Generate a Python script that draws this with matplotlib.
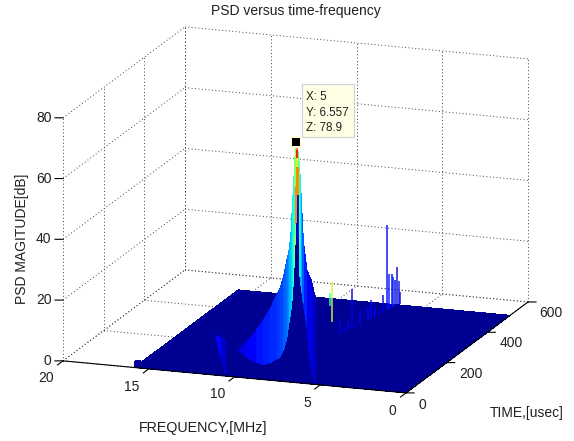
# PSD surface over time and frequency, matlab style 3d view with a data tip
import numpy as np
import matplotlib
matplotlib.use('Agg')
import matplotlib.pyplot as plt
from matplotlib.colors import Normalize
from matplotlib.patches import Rectangle

plt.rcParams['font.family'] = ['Liberation Sans', 'DejaVu Sans']

# surface grid
freqs = [0, 5.3, 5.36, 5.46, 5.6, 5.85, 6.05, 6.14, 6.24, 6.28, 6.37, 6.48, 6.57, 6.63, 6.7, 6.76,
         6.86, 6.92, 7.01, 7.21, 7.4, 7.56, 8.0, 8.38, 8.8, 9.3, 9.8, 9.85, 10.55, 10.6, 10.9, 11.14,
         11.19, 15.5, 15.55, 15.85]
times = [0, 5, 6, 8, 512]
mag_t0 = [0] * len(freqs)
mag_t5 = [0, 0, 0.5, 1.8, 5, 18.6, 26, 30, 34.7, 44, 61.7, 52, 40, 33, 27, 24,
          20, 18, 14, 10, 7.9, 7, 5.5, 4.6, 5.2, 6.5, 8.7, 0, 0, 0.7, 6.5, 12.6,
          0, 0, 2, 2]
mag_t6 = [0, 0, 28.6, 30.5, 33.9, 37, 46, 56, 67, 71, 76, 78.9, 72, 63.8, 57.7, 50,
          44.3, 42, 39.9, 34.2, 30.5, 28.6, 23, 19.3, 15.5, 11.8, 8.7, 0, 0, 11.5, 12, 12.6,
          0, 0, 2, 2]
mag_t8 = [0] * len(freqs)
mag_t512 = [0] * len(freqs)
# colour of the steep flank strips, same units as the magnitude
flank_c = [0, 0, 3, 4, 6, 11, 16, 22, 28, 35, 60, 40, 33, 28, 25, 23,
           20, 18, 16, 14, 13, 12, 11, 10, 8.5, 6, 0, 0, 0, 4, 8, 0,
           0, 3, 3, 3]

# thin spikes behind the main peak
spike_f = [7.65, 7.61, 7.49, 7.41, 7.36, 7.29, 7.25, 7.17, 7.04, 6.99, 6.92, 6.84, 6.79, 6.73,
           6.69, 6.65, 6.63, 6.6, 6.57, 6.54, 6.52]
spike_t = [272, 280, 307, 325, 337, 351, 360, 378, 405, 416, 431, 449, 461, 473,
           483, 492, 497, 502, 509, 516, 520]
spike_low = [11, 5.4, 0, 0, 0, 0, 0, 0, 0, 0, 0, 0, 0, 0, 0, 0, 0, 0, 0, 0, 0]
spike_high = [15.3, 18.6, 5.2, 1, 2.7, 12.8, 1, 4.6, 4.3, 6, 3.1, 1, 5.6, 28,
              11.6, 11.2, 10, 8.5, 12.6, 7.8, 3.8]
spike_c = [30, 47, 6, 8, 7, 6, 6, 8, 9, 7, 8, 6, 6, 9, 10, 8, 11, 5, 4, 10, 5]

# coloured slivers along the top of the ridge
ridge_f = [6.43, 6.43, 6.34, 6.35, 6.53, 6.59]
ridge_low = [73.7, 70.8, 61.5, 45, 64, 48]
ridge_high = [76.4, 73.7, 70.8, 61.5, 72, 64]
ridge_c = [70, 47, 60, 8, 40, 30]

# data tip, marker sits where the picture has it
tip_f = 6.48
tip_t = 5
tip_z = 78.9
tip_text = 'X: 5\nY: 6.557\nZ: 78.9'

x_ticks = [0, 5, 10, 15, 20]
y_ticks = [0, 200, 400, 600]
z_ticks = [0, 20, 40, 60, 80]

W, H = 574, 441
fig = plt.figure(figsize=(5.74, 4.41), dpi=100)
# axes box larger than the figure so nothing of the 3d box gets clipped
ax = fig.add_axes([-12.6 / W, -77 / H, 600 / W, 600 / H], projection='3d', proj_type='ortho',
                  computed_zorder=False)
ax.view_init(elev=15.3, azim=-70.5)
ax.set_box_aspect((363.9, 365.5, 252), zoom=0.9287)
ax.set_xlim(20, 0, view_margin=0)
ax.set_ylim(0, 600, view_margin=0)
ax.set_zlim(0, 80, view_margin=0)
ax.set_axis_off()

cmap = matplotlib.colormaps['jet']
norm = Normalize(-1.5, 78.9)

# dotted grid on the two back walls and the floor
grid = dict(color='#404040', ls=(0, (1, 2.5)), lw=0.7, zorder=1)
for f in x_ticks:
    ax.plot([f, f], [600, 600], [0, 80], **grid)
    ax.plot([f, f], [0, 600], [0, 0], **grid)
for t in y_ticks:
    ax.plot([20, 20], [t, t], [0, 80], **grid)
    ax.plot([0, 20], [t, t], [0, 0], **grid)
for z in z_ticks:
    ax.plot([0, 20], [600, 600], [z, z], **grid)
    ax.plot([20, 20], [0, 600], [z, z], **grid)

# surface, each band gets its own flat colour
X, Y = np.meshgrid(freqs, times)
Z = np.array([mag_t0, mag_t5, mag_t6, mag_t8, mag_t512])
colors = cmap(norm(np.zeros(Z.shape)))
colors[1] = cmap(norm(np.array(flank_c)))
ax.plot_surface(X, Y, Z, facecolors=colors, rstride=1, cstride=1, shade=False,
                linewidth=0, antialiased=False, zorder=2)

for f, lo, hi, c in zip(ridge_f, ridge_low, ridge_high, ridge_c):
    ax.plot([f, f], [5.5, 5.5], [lo, hi], color=cmap(norm(c)), lw=1.3, zorder=4, solid_capstyle='butt')

for f, t, lo, hi, c in zip(spike_f, spike_t, spike_low, spike_high, spike_c):
    ax.plot([f, f], [t, t], [lo, hi], color=cmap(norm(c)), lw=1.2, alpha=0.85, zorder=3,
            solid_capstyle='butt')

# solid axis lines and ticks
solid = dict(color='black', lw=0.8, zorder=5)
ax.plot([20, 0], [0, 0], [0, 0], **solid)
ax.plot([0, 0], [0, 600], [0, 0], **solid)
for f in x_ticks:
    ax.plot([f, f], [0, -27], [0, 0], **solid)
for t in y_ticks:
    ax.plot([0, -0.415], [t, t + 4.4], [0, 0], **solid)
for z in z_ticks:
    ax.plot([20, 20.415], [0, -4.4], [z, z], **solid)

ax.plot([tip_f], [tip_t], [tip_z], marker='s', ms=6.5, color='black', mec='#FFFFD9', mew=1.43,
        ls='none', zorder=6)


def px_text(x, y, s, **kw):
    kw.setdefault('ha', 'center')
    kw.setdefault('va', 'center')
    kw.setdefault('fontsize', 10)
    kw.setdefault('color', '#202020')
    fig.text(x / W, 1 - y / H, s, **kw)


x_label_pos = [(392.7, 411), (307, 403), (217.7, 394), (132, 386.7), (45.7, 378.3)]
y_label_pos = [(422.3, 405), (470.7, 374), (511.7, 343.3), (551, 312.7)]
z_label_pos = [(51.5, 361), (51.5, 300), (51.5, 239), (51.5, 179), (51.5, 118)]
for v, (x, y) in zip(x_ticks, x_label_pos):
    px_text(x, y, str(v))
for v, (x, y) in zip(y_ticks, y_label_pos):
    px_text(x, y, str(v))
for v, (x, y) in zip(z_ticks, z_label_pos):
    px_text(x, y, str(v), ha='right')

px_text(296, 11, 'PSD versus time-frequency')
px_text(203, 428, 'FREQUENCY,[MHz]', fontsize=10.3)
px_text(526.7, 413, 'TIME,[usec]')
px_text(22, 239, 'PSD MAGITUDE[dB]', rotation=90)

# the tip box
fig.add_artist(Rectangle((302 / W, 1 - 137 / H), 52 / W, 53 / H, transform=fig.transFigure,
                         fc='#FFFFE5', ec='#D0D0D0', lw=0.8, zorder=3))
px_text(306, 112.5, tip_text, ha='left', fontsize=8.4, linespacing=1.35, zorder=4)

fig.savefig('out.png', dpi=100)
